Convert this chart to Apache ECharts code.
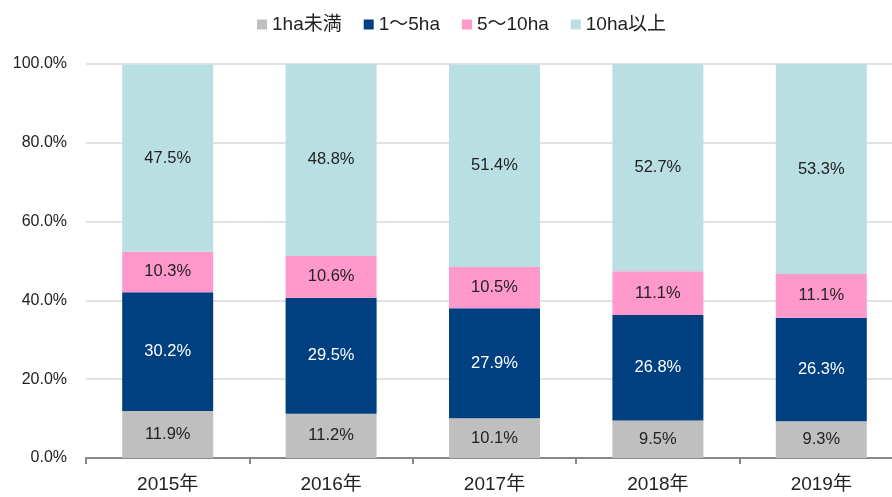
<!DOCTYPE html>
<html>
<head>
<meta charset="utf-8">
<script src="https://cdn.jsdelivr.net/npm/echarts@6/dist/echarts.min.js"></script>
<style>
  html, body { margin: 0; padding: 0; background: #fff; }
  #chart { width: 892px; height: 497px; }
</style>
</head>
<body>
<div id="chart"></div>
<script>
// 経営耕地面積規模別の構成比
const years = ['2015年', '2016年', '2017年', '2018年', '2019年'];
const seriesNames = ['1ha未満', '1～5ha', '5～10ha', '10ha以上'];
const under1 = [11.9, 11.2, 10.1, 9.5, 9.3];
const from1to5 = [30.2, 29.5, 27.9, 26.8, 26.3];
const from5to10 = [10.3, 10.6, 10.5, 11.1, 11.1];
const over10 = [47.5, 48.8, 51.4, 52.7, 53.3];
const yTicks = [0, 20, 40, 60, 80, 100];

const colors = ['#BFBFBF', '#003F80', '#FF99CC', '#B9DFE3'];
const labelColors = ['#222', '#fff', '#222', '#222'];
const fontFamily = '"Liberation Sans", "Noto Sans CJK JP", sans-serif';

const chart = echarts.init(document.getElementById('chart'));

const dataList = [under1, from1to5, from5to10, over10];
const series = dataList.map((d, i) => ({
  name: seriesNames[i],
  type: 'bar',
  stack: 'total',
  barWidth: 91,
  itemStyle: { color: colors[i] },
  label: {
    show: true,
    position: 'inside',
    color: labelColors[i],
    fontSize: 16.5,
    fontFamily,
    formatter: (p) => p.value.toFixed(1) + '%'
  },
  data: d
}));

chart.setOption({
  backgroundColor: '#fff',
  animation: false,
  color: colors,
  legend: {
    top: 10,
    left: 252,
    icon: 'rect',
    itemWidth: 10,
    itemHeight: 10,
    itemGap: 22,
    textStyle: { fontSize: 19, color: '#222', fontFamily },
    data: seriesNames
  },
  grid: { left: 86, top: 64, width: 817, height: 394, outerBoundsMode: 'none', containLabel: false },
  xAxis: {
    type: 'category',
    data: years,
    axisLine: { lineStyle: { color: '#888', width: 2 } },
    axisTick: { show: true, alignWithLabel: false, length: 6, lineStyle: { color: '#888', width: 2 } },
    axisLabel: { fontSize: 19, color: '#222', margin: 17, fontFamily }
  },
  yAxis: {
    type: 'value',
    min: yTicks[0],
    max: yTicks[yTicks.length - 1],
    interval: yTicks[1] - yTicks[0],
    axisLine: { show: false },
    axisTick: { show: false },
    splitLine: { lineStyle: { color: '#D9D9D9', width: 1.5 } },
    axisLabel: { fontSize: 16, color: '#222', margin: 19, fontFamily, formatter: (v) => v.toFixed(1) + '%' }
  },
  series
});
</script>
</body>
</html>
